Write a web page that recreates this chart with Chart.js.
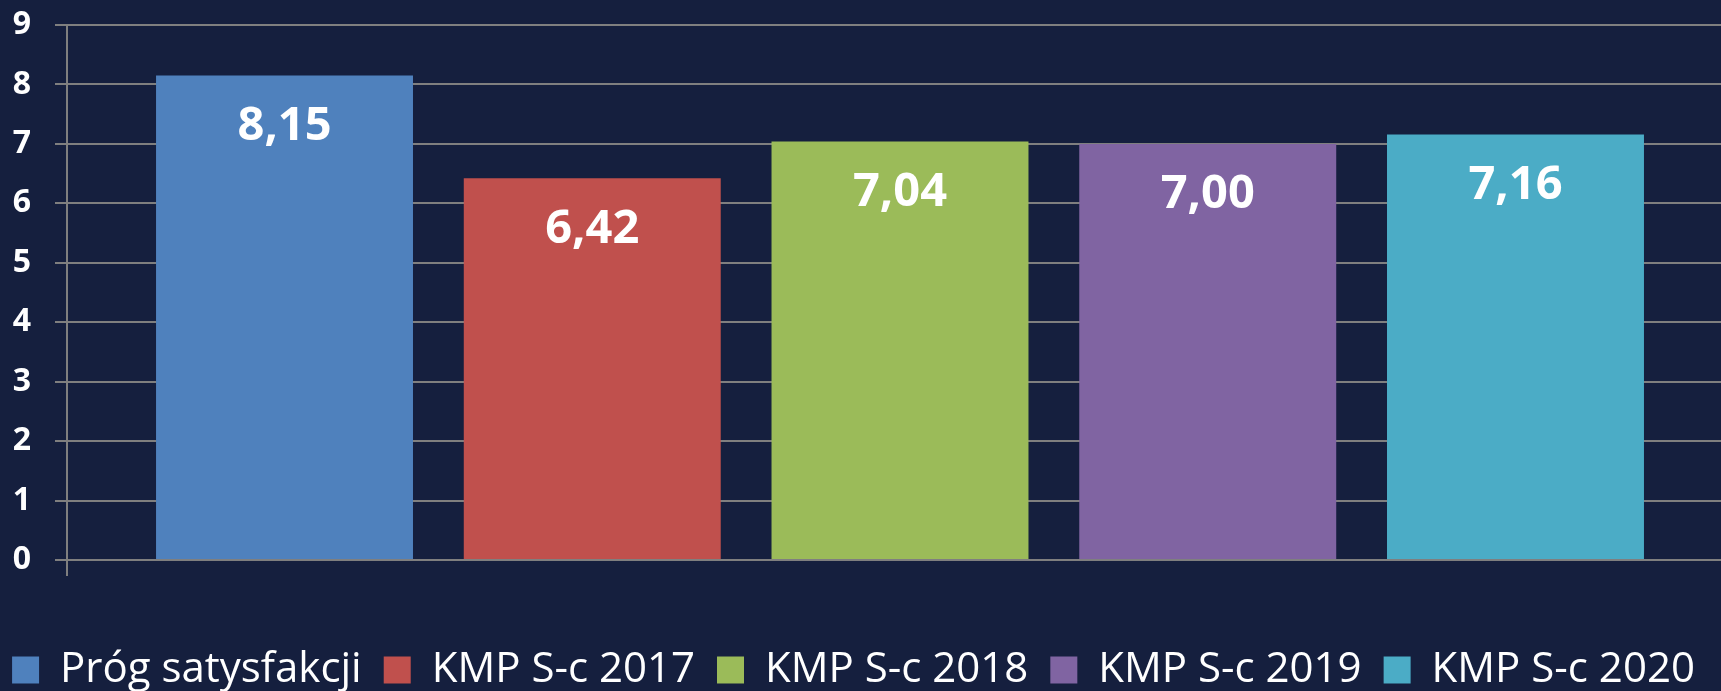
<!DOCTYPE html>
<html>
<head>
<meta charset="utf-8">
<script src="https://cdn.jsdelivr.net/npm/chart.js@4"></script>
<style>
  html, body { margin: 0; padding: 0; background: #151f3e; overflow: hidden; }
  #wrap { width: 1733px; height: 691px; position: relative; }
</style>
</head>
<body>
<div id="wrap"><canvas id="myChart"></canvas></div>
<script>
const seriesNames = ["Próg satysfakcji", "KMP S-c 2017", "KMP S-c 2018", "KMP S-c 2019", "KMP S-c 2020"];
const seriesValues = [8.15, 6.42, 7.04, 7.0, 7.16];
const seriesColors = ["#4f81bd", "#c0504d", "#9bbb59", "#8064a2", "#4bacc6"];
const yTicks = [0, 1, 2, 3, 4, 5, 6, 7, 8, 9];

const gridGray = "#7f7f7f";
const fontFamily = "'Open Sans', sans-serif";

// wartości na słupkach (z przecinkiem)
const barLabels = {
  id: "barLabels",
  afterDatasetsDraw(chart) {
    const ctx = chart.ctx;
    ctx.save();
    ctx.fillStyle = "#ffffff";
    ctx.font = `bold 47px ${fontFamily}`;
    ctx.textAlign = "center";
    ctx.textBaseline = "middle";
    chart.data.datasets.forEach((ds, i) => {
      const bar = chart.getDatasetMeta(i).data[0];
      const txt = ds.data[0].toFixed(2).replace(".", ",");
      ctx.fillText(txt, bar.x, bar.y + 51);
    });
    ctx.restore();
  },
};

const legendShift = {
  id: "legendShift",
  beforeInit(chart) {
    const fit = chart.legend.fit;
    chart.legend.fit = function () {
      fit.call(this);
      this.height -= 10;
    };
  },
  afterLayout(chart) {
    chart.legend.left -= 13;
    chart.legend.right -= 13;
  },
};

const chartCtx = document.getElementById("myChart").getContext("2d");
window.chart = new Chart(chartCtx, {
  type: "bar",
  data: {
    labels: [""],
    datasets: seriesNames.map((name, i) => ({
      label: name,
      data: [seriesValues[i]],
      backgroundColor: seriesColors[i],
      borderWidth: 0,
    })),
  },
  options: {
    responsive: true,
    maintainAspectRatio: false,
    animation: false,
    categoryPercentage: 0.9236,
    barPercentage: 0.835,
    layout: { padding: { top: 25, left: 0, right: 0, bottom: 0 } },
    scales: {
      x: {
        grid: {
          display: true,
          drawOnChartArea: false,
          drawTicks: true,
          tickLength: 16,
          color: gridGray,
          lineWidth: 2,
        },
        border: { display: true, color: gridGray, width: 2 },
        ticks: { display: false },
        afterFit(scale) {
          scale.height = 67;
        },
      },
      y: {
        min: 0,
        max: 9,
        afterBuildTicks(scale) {
          scale.ticks = yTicks.map((v) => ({ value: v }));
        },
        afterFit(scale) {
          scale.width = 67;
          scale.paddingTop = 0;
          scale.paddingBottom = 0;
        },
        grid: {
          color: gridGray,
          lineWidth: 2,
          drawTicks: true,
          tickLength: 12,
        },
        border: { display: true, color: gridGray, width: 2 },
        ticks: {
          color: "#ffffff",
          padding: 24,
          font: { family: fontFamily, size: 32, weight: "bold" },
        },
      },
    },
    plugins: {
      tooltip: { enabled: false },
      legend: {
        position: "bottom",
        labels: {
          color: "#ffffff",
          boxWidth: 27,
          boxHeight: 27,
          padding: 22,
          font: { family: fontFamily, size: 42 },
        },
      },
    },
  },
  plugins: [barLabels, legendShift],
});
</script>
</body>
</html>
